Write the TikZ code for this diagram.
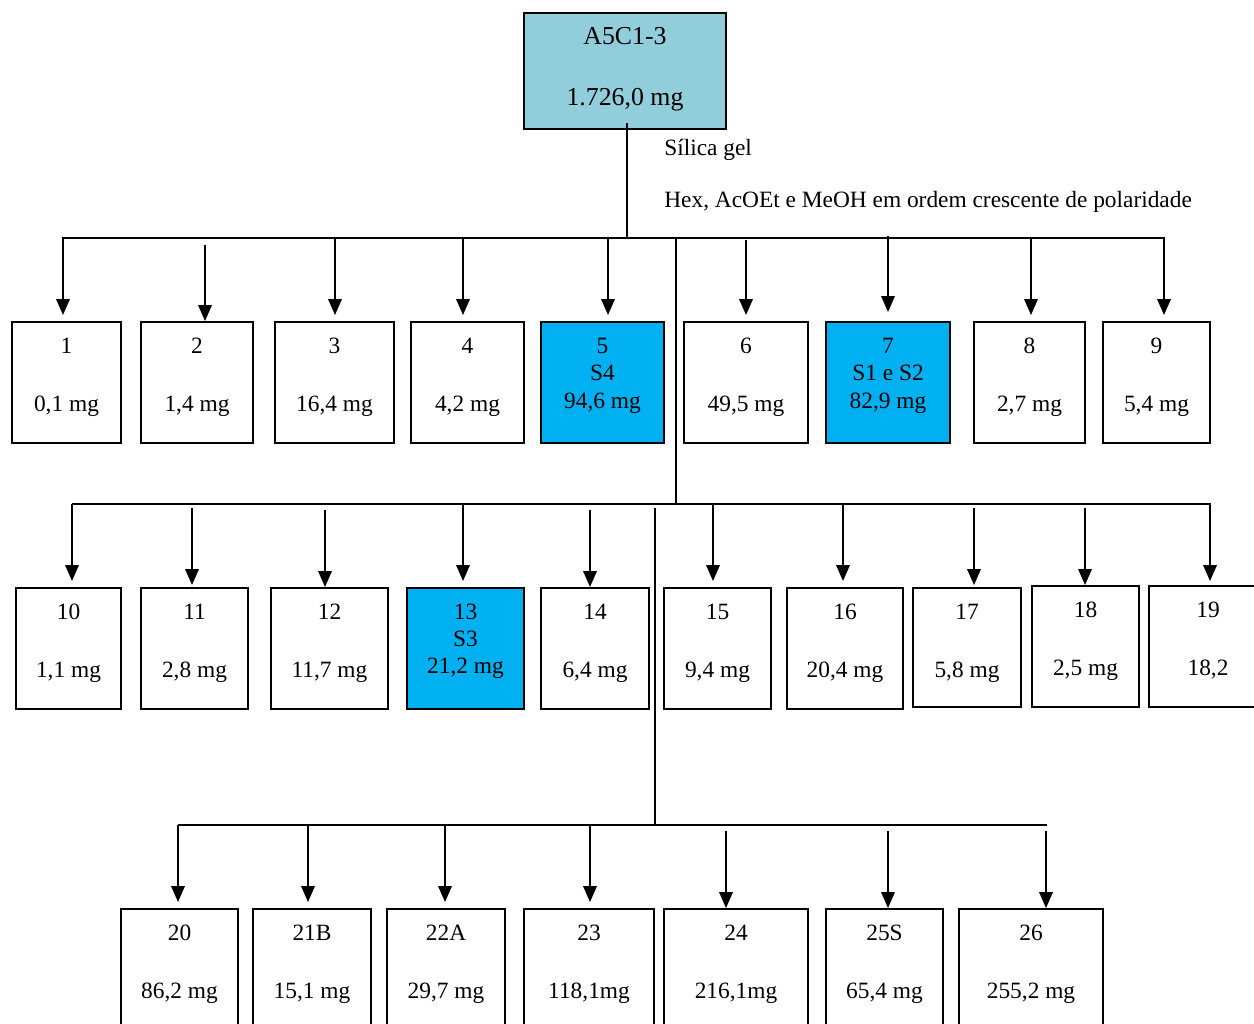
\documentclass[tikz,border=0pt]{standalone}
\usepackage{fontspec}
\setmainfont{Liberation Serif}
\usetikzlibrary{arrows.meta}
\definecolor{topblue}{HTML}{92CDDC}
\definecolor{hiblue}{HTML}{00B0F0}
\tikzset{
  bx/.style={draw=black, line width=1.1pt, inner sep=0pt},
  wb/.style={bx, fill=white},
  bb/.style={bx, fill=hiblue},
  tb/.style={bx, fill=topblue},
  lb/.style={font=\fontsize{13.3}{16}\selectfont, inner sep=0pt, anchor=base},
  lbig/.style={lb, font=\fontsize{14.7}{17}\selectfont},
  ln/.style={line width=1.1pt},
  arr/.style={line width=1.1pt, -{Triangle[width=0.27cm, length=0.32cm]}}
}
\newcommand\mkbox[6]{\node[#6, minimum width={(#3-#2)*0.02cm}, minimum height={(#5-#4)*0.02cm}] (#1) at ({(#2+#3)/2},{(#4+#5)/2}) {};}
\newcommand\mktx[4]{\node[lb] (#1) at (#2.center |- 0,#3) {#4};}
\newcommand\mkarr[4]{\draw[arr, shorten >=#4*0.02cm] (#1,#2) -- (#3.north -| #1,0);}
\begin{document}
\begin{tikzpicture}[x=0.02cm, y=-0.02cm]
\path[use as bounding box] (0,0) rectangle (1254,1024);
\clip (0,0) rectangle (1254,1024);
% top
\mkbox{top}{524}{726}{13}{129}{tb}
\node[lbig] (topa) at (top.center |- 0,45) {A5C1-3};
\node[lbig] (topb) at (top.center |- 0,106) {1.726,0 mg};
\node[lb, anchor=base west] (sg) at (664,155) {Sílica gel};
\node[lb, anchor=base west] (hx) at (664,207) {Hex, AcOEt e MeOH em ordem crescente de polaridade};
% row 1 boxes
\mkbox{b1}{12}{121}{322}{443}{wb}
\mkbox{b2}{141}{253}{322}{443}{wb}
\mkbox{b3}{275}{394}{322}{443}{wb}
\mkbox{b4}{411}{524}{322}{443}{wb}
\mkbox{b5}{541}{664}{322}{443}{bb}
\mkbox{b6}{684}{808}{322}{443}{wb}
\mkbox{b7}{826}{950}{322}{443}{bb}
\mkbox{b8}{974}{1085}{322}{443}{wb}
\mkbox{b9}{1103}{1210}{322}{443}{wb}
\mktx{t1a}{b1}{353}{1}\mktx{t1b}{b1}{411}{0,1 mg}
\mktx{t2a}{b2}{353}{2}\mktx{t2b}{b2}{411}{1,4 mg}
\mktx{t3a}{b3}{353}{3}\mktx{t3b}{b3}{411}{16,4 mg}
\mktx{t4a}{b4}{353}{4}\mktx{t4b}{b4}{411}{4,2 mg}
\mktx{t5a}{b5}{353}{5}\mktx{t5b}{b5}{380}{S4}\mktx{t5c}{b5}{408}{94,6 mg}
\mktx{t6a}{b6}{353}{6}\mktx{t6b}{b6}{411}{49,5 mg}
\mktx{t7a}{b7}{353}{7}\mktx{t7b}{b7}{380}{S1 e S2}\mktx{t7c}{b7}{408}{82,9 mg}
\mktx{t8a}{b8}{353}{8}\mktx{t8b}{b8}{411}{2,7 mg}
\mktx{t9a}{b9}{353}{9}\mktx{t9b}{b9}{411}{5,4 mg}
% row 2 boxes
\mkbox{b10}{16}{121}{588}{709}{wb}
\mkbox{b11}{141}{248}{588}{709}{wb}
\mkbox{b12}{271}{388}{588}{709}{wb}
\mkbox{b13}{407}{524}{588}{709}{bb}
\mkbox{b14}{541}{649}{588}{709}{wb}
\mkbox{b15}{664}{771}{588}{709}{wb}
\mkbox{b16}{787}{903}{588}{709}{wb}
\mkbox{b17}{913}{1021}{588}{707}{wb}
\mkbox{b18}{1032}{1139}{586}{707}{wb}
\mkbox{b19}{1149}{1267}{586}{707}{wb}
\mktx{t10a}{b10}{619}{10}\mktx{t10b}{b10}{677}{1,1 mg}
\mktx{t11a}{b11}{619}{11}\mktx{t11b}{b11}{677}{2,8 mg}
\mktx{t12a}{b12}{619}{12}\mktx{t12b}{b12}{677}{11,7 mg}
\mktx{t13a}{b13}{619}{13}\mktx{t13b}{b13}{646}{S3}\mktx{t13c}{b13}{673}{21,2 mg}
\mktx{t14a}{b14}{619}{14}\mktx{t14b}{b14}{677}{6,4 mg}
\mktx{t15a}{b15}{619}{15}\mktx{t15b}{b15}{677}{9,4 mg}
\mktx{t16a}{b16}{619}{16}\mktx{t16b}{b16}{677}{20,4 mg}
\mktx{t17a}{b17}{619}{17}\mktx{t17b}{b17}{677}{5,8 mg}
\mktx{t18a}{b18}{617}{18}\mktx{t18b}{b18}{675}{2,5 mg}
\mktx{t19a}{b19}{617}{19}\mktx{t19b}{b19}{675}{18,2}
% row 3 boxes
\mkbox{b20}{121}{238}{909}{1040}{wb}
\mkbox{b21}{253}{371}{909}{1040}{wb}
\mkbox{b22}{387}{505}{909}{1040}{wb}
\mkbox{b23}{524}{654}{909}{1040}{wb}
\mkbox{b24}{664}{808}{909}{1040}{wb}
\mkbox{b25}{826}{943}{909}{1040}{wb}
\mkbox{b26}{959}{1103}{909}{1040}{wb}
\mktx{t20a}{b20}{940}{20}\mktx{t20b}{b20}{998}{86,2 mg}
\mktx{t21a}{b21}{940}{21B}\mktx{t21b}{b21}{998}{15,1 mg}
\mktx{t22a}{b22}{940}{22A}\mktx{t22b}{b22}{998}{29,7 mg}
\mktx{t23a}{b23}{940}{23}\mktx{t23b}{b23}{998}{118,1mg}
\mktx{t24a}{b24}{940}{24}\mktx{t24b}{b24}{998}{216,1mg}
\mktx{t25a}{b25}{940}{25S}\mktx{t25b}{b25}{998}{65,4 mg}
\mktx{t26a}{b26}{940}{26}\mktx{t26b}{b26}{998}{255,2 mg}
% trunks and buses
\coordinate (bus1) at (0,238);
\coordinate (bus2) at (0,504);
\coordinate (bus3) at (0,825);
\draw[ln] ([yshift=0.14cm]top.south -| 627,0) -- (bus1 -| 627,0);
\draw[ln] (bus1 -| 62,0) -- (bus1 -| 1165,0);
\draw[ln] (bus1 -| 676,0) -- (bus2 -| 676,0);
\draw[ln] (bus2 -| 72,0) -- (bus2 -| 1211,0);
\draw[ln] (655,508) -- (bus3 -| 655,0);
\draw[ln] (bus3 -| 178,0) -- (bus3 -| 1047,0);
% row 1 arrows
\mkarr{63}{238}{b1}{6}
\mkarr{205}{245}{b2}{0}
\mkarr{335}{238}{b3}{6}
\mkarr{463}{238}{b4}{6}
\mkarr{608}{238}{b5}{6}
\mkarr{746}{240}{b6}{6}
\mkarr{888}{236}{b7}{9}
\mkarr{1031}{238}{b8}{6}
\mkarr{1164}{238}{b9}{6}
% row 2 arrows
\mkarr{72}{504}{b10}{6}
\mkarr{192}{508}{b11}{2}
\mkarr{325}{510}{b12}{0}
\mkarr{463}{504}{b13}{6}
\mkarr{590}{510}{b14}{0}
\mkarr{713}{504}{b15}{6}
\mkarr{843}{504}{b16}{6}
\mkarr{974}{508}{b17}{2}
\mkarr{1085}{508}{b18}{0}
\mkarr{1210}{504}{b19}{4}
% row 3 arrows
\mkarr{178}{825}{b20}{6}
\mkarr{308}{825}{b21}{6}
\mkarr{445}{825}{b22}{6}
\mkarr{590}{825}{b23}{6}
\mkarr{726}{831}{b24}{0}
\mkarr{888}{831}{b25}{0}
\mkarr{1046}{831}{b26}{0}
\end{tikzpicture}
\end{document}
